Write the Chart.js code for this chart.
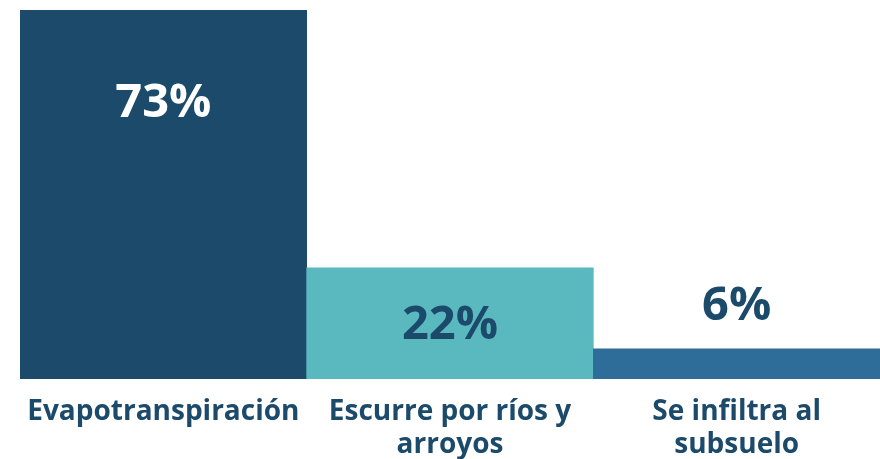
<!DOCTYPE html>
<html>
<head>
<meta charset="utf-8">
<script src="https://cdn.jsdelivr.net/npm/chart.js@4"></script>
<style>
  html, body { margin: 0; padding: 0; background: #fff; }
  #wrap { width: 880px; height: 459px; }
</style>
</head>
<body>
<div id="wrap"><canvas id="chartAgua"></canvas></div>
<script>
const categorias = [['Evapotranspiración'], ['Escurre por ríos y', 'arroyos'], ['Se infiltra al', 'subsuelo']];
const porcentajes = [73, 22, 6];
const etiquetas = ['73%', '22%', '6%'];

const colores = ['#1c4a6b', '#5ab8bf', '#2e6c9a'];
const colorTexto = ['#ffffff', '#1c4a6b', '#1c4a6b'];
const azul = '#1c4a6b';

// where each percentage goes: inside near the top, centered, or above the bar
const posEtiqueta = ['arriba', 'centro', 'encima'];

const pluginEtiquetas = {
  id: 'etiquetas',
  afterDatasetsDraw(chart) {
    const ctx = chart.ctx;
    const meta = chart.getDatasetMeta(0);
    ctx.save();
    ctx.font = 'bold 47px "Open Sans"';
    ctx.textAlign = 'center';
    ctx.textBaseline = 'middle';
    meta.data.forEach((bar, i) => {
      let y;
      if (posEtiqueta[i] == 'arriba') y = bar.y + 94;
      else if (posEtiqueta[i] == 'centro') y = (bar.y + bar.base) / 2 + 2;
      else y = bar.y - 42;
      ctx.fillStyle = colorTexto[i];
      ctx.fillText(etiquetas[i], bar.x, y);
    });
    ctx.restore();
  }
};

const ctxAgua = document.getElementById('chartAgua');

new Chart(ctxAgua, {
  type: 'bar',
  data: {
    labels: categorias,
    datasets: [{
      data: porcentajes,
      backgroundColor: colores,
      borderWidth: 0,
      barPercentage: 1,
      categoryPercentage: 1
    }]
  },
  options: {
    responsive: true,
    maintainAspectRatio: false,
    animation: false,
    layout: { padding: { left: 20, top: 10, right: 0, bottom: -19 } },
    scales: {
      x: {
        grid: { display: false, drawTicks: false },
        border: { display: false },
        ticks: {
          color: azul,
          font: { family: 'Open Sans', size: 28, weight: 'bold', lineHeight: 1.16 },
          padding: 17,
          maxRotation: 0,
          autoSkip: false
        }
      },
      y: {
        display: false,
        min: 0,
        max: 73
      }
    },
    plugins: {
      legend: { display: false },
      tooltip: { enabled: false }
    }
  },
  plugins: [pluginEtiquetas]
});
</script>
</body>
</html>
